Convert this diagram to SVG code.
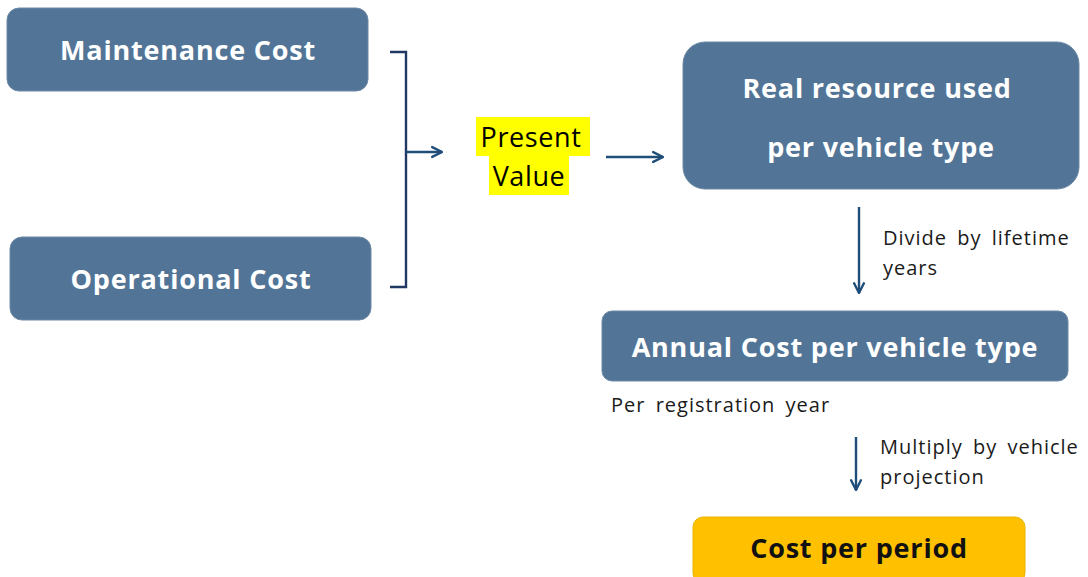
<svg xmlns="http://www.w3.org/2000/svg" width="1088" height="577" viewBox="0 0 1088 577">
  <style>
    .box { fill: #527597; stroke: #6f8aa6; stroke-width: 1; }
    .cta { fill: #FFC000; stroke: #e8b400; stroke-width: 1; }
    .lbl { font-family: "Open Sans", "Liberation Sans", sans-serif; font-weight: 700; font-size: 27px; letter-spacing: 0.8px; fill: #ffffff; text-anchor: middle; }
    .dark { fill: #111111; }
    .note { font-family: "Open Sans", "Liberation Sans", sans-serif; font-size: 20px; letter-spacing: 1px; word-spacing: 4px; fill: #1a1a1a; }
    .pv { font-family: "Open Sans", "Liberation Sans", sans-serif; font-size: 27px; letter-spacing: 0.6px; fill: #000000; text-anchor: middle; }
    .wire { fill: none; stroke: #1F4E79; stroke-width: 2.4; }
    .brk { fill: none; stroke: #203864; stroke-width: 2.4; }
  </style>
  <defs>
    <marker id="head" viewBox="0 0 10 10" refX="9" refY="5" markerWidth="14" markerHeight="14" markerUnits="userSpaceOnUse" orient="auto">
      <path d="M2,1.5 L9,5 L2,8.5" fill="none" stroke="#1F4E79" stroke-width="1.7" stroke-linecap="round" stroke-linejoin="round"/>
    </marker>
  </defs>
  <rect width="1088" height="577" fill="#ffffff"/>

  <g id="maintenance-cost">
    <rect class="box" x="7" y="8" width="361" height="83" rx="12"/>
    <text class="lbl" x="188" y="60">Maintenance Cost</text>
  </g>

  <g id="operational-cost">
    <rect class="box" x="10" y="237" width="361" height="83" rx="12"/>
    <text class="lbl" x="191" y="289">Operational Cost</text>
  </g>

  <g id="present-value">
    <rect x="476" y="117" width="114" height="39" fill="#FFFF00"/>
    <rect x="489" y="156" width="80" height="39" fill="#FFFF00"/>
    <text class="pv" x="531" y="147">Present</text>
    <text class="pv" x="529" y="186">Value</text>
  </g>

  <g id="real-resource">
    <rect class="box" x="683" y="42" width="396" height="147" rx="22"/>
    <text class="lbl" x="877" y="98">Real resource used</text>
    <text class="lbl" x="881" y="157">per vehicle type</text>
  </g>

  <g id="annual-cost">
    <rect class="box" x="602" y="311" width="466" height="70" rx="10"/>
    <text class="lbl" x="835" y="357">Annual Cost per vehicle type</text>
  </g>

  <g id="cost-per-period">
    <rect class="cta" x="693" y="517" width="332" height="66" rx="10"/>
    <text class="lbl dark" x="859" y="558">Cost per period</text>
  </g>

  <g id="connectors">
    <path class="brk" d="M390,52 L406,52 L406,287 L390,287"/>
    <line class="wire" x1="406" y1="152" x2="442" y2="152" marker-end="url(#head)"/>
    <line class="wire" x1="606" y1="157" x2="663" y2="157" marker-end="url(#head)"/>
    <line class="wire" x1="859" y1="207" x2="859" y2="293" marker-end="url(#head)"/>
    <line class="wire" x1="856" y1="437" x2="856" y2="490" marker-end="url(#head)"/>
  </g>

  <g id="annotations">
    <text class="note" x="883" y="245">Divide by lifetime</text>
    <text class="note" x="883" y="275">years</text>
    <text class="note" x="611" y="412">Per registration year</text>
    <text class="note" x="880" y="454">Multiply by vehicle</text>
    <text class="note" x="880" y="484">projection</text>
  </g>
</svg>
